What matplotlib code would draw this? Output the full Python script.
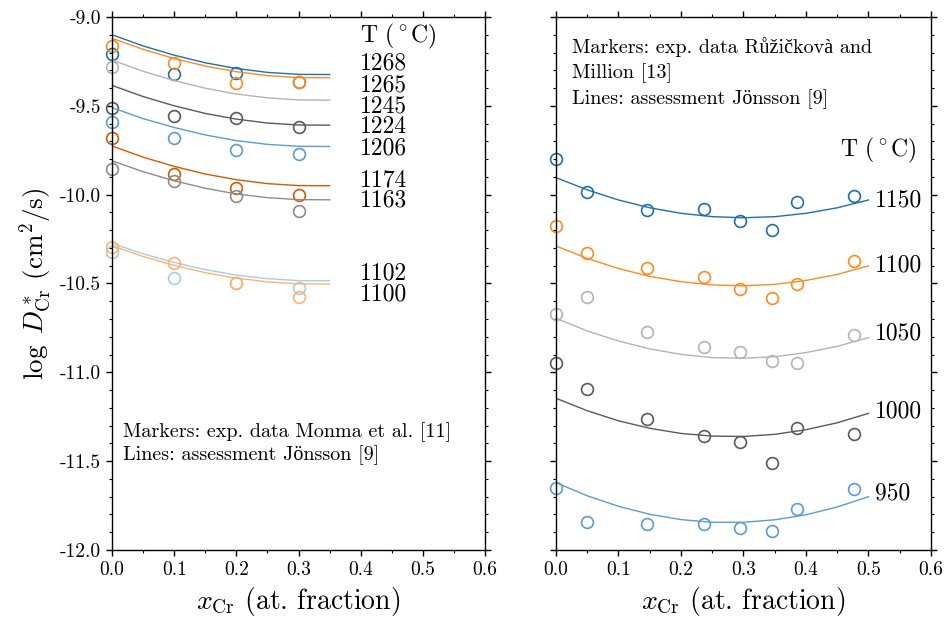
import matplotlib
matplotlib.use("Agg")
import matplotlib.pyplot as plt
from matplotlib.ticker import MultipleLocator, FormatStrFormatter

plt.rcParams['font.family'] = ['cmr10', 'Liberation Serif', 'DejaVu Serif']
plt.rcParams['mathtext.fontset'] = 'cm'
plt.rcParams['axes.unicode_minus'] = False
plt.rcParams['axes.linewidth'] = 1.0

# ---- left panel: Monma et al. data ----
left_temps = ['1268', '1265', '1245', '1224', '1206', '1174', '1163', '1102', '1100']
left_colors = ['#1f6fae', '#ff8a1e', '#b4b4b4', '#5a5a5a', '#5b9bd5', '#d45a00', '#8c8c8c', '#a8cbec', '#ffb36e']

left_exp_x = [0.0, 0.1, 0.2, 0.3]
left_exp_y = [
    [-9.21, -9.32, -9.317, -9.364],
    [-9.163, -9.26, -9.37, -9.368],
    [-9.28],
    [-9.51, -9.555, -9.57, -9.62],
    [-9.589, -9.679, -9.748, -9.773],
    [-9.679, -9.884, -9.96, -10.0],
    [-9.855, -9.923, -10.005, -10.09],
    [-10.324, -10.47, -10.499, -10.527],
    [-10.296, -10.386, -10.495, -10.574],
]

left_calc_x = [0.0, 0.05, 0.1, 0.15, 0.2, 0.25, 0.3, 0.35]
left_calc_y = [
    [-9.100, -9.163, -9.215, -9.258, -9.290, -9.312, -9.323, -9.324],
    [-9.120, -9.182, -9.234, -9.276, -9.308, -9.330, -9.341, -9.342],
    [-9.242, -9.306, -9.358, -9.401, -9.434, -9.455, -9.467, -9.468],
    [-9.385, -9.448, -9.500, -9.543, -9.575, -9.597, -9.608, -9.609],
    [-9.510, -9.572, -9.622, -9.664, -9.696, -9.717, -9.728, -9.729],
    [-9.726, -9.789, -9.841, -9.884, -9.916, -9.938, -9.949, -9.950],
    [-9.809, -9.871, -9.922, -9.964, -9.996, -10.017, -10.028, -10.029],
    [-10.274, -10.333, -10.382, -10.422, -10.453, -10.473, -10.484, -10.485],
    [-10.287, -10.348, -10.398, -10.439, -10.470, -10.491, -10.502, -10.503],
]
left_label_y = [-9.261, -9.383, -9.505, -9.617, -9.739, -9.921, -10.034, -10.442, -10.564]

# ---- right panel: Ruzickova and Million data ----
right_temps = ['1150', '1100', '1050', '1000', '950']
right_colors = ['#1f6fae', '#ff8a1e', '#b4b4b4', '#5a5a5a', '#5b9bd5']

right_exp_x = [0.0, 0.05, 0.145, 0.237, 0.295, 0.345, 0.385, 0.477]
right_exp_y = [
    [-9.799, -9.983, -10.086, -10.082, -10.146, -10.199, -10.039, -10.007],
    [-10.176, -10.33, -10.411, -10.465, -10.532, -10.58, -10.503, -10.373],
    [-10.671, -10.574, -10.771, -10.855, -10.883, -10.936, -10.949, -10.789],
    [-10.949, -11.095, -11.264, -11.356, -11.39, -11.512, -11.315, -11.348],
    [-11.652, -11.84, -11.853, -11.853, -11.877, -11.891, -11.769, -11.656],
]

right_calc_x = [0.0, 0.05, 0.1, 0.15, 0.2, 0.25, 0.3, 0.35, 0.4, 0.45, 0.5]
right_calc_y = [
    [-9.904, -9.973, -10.030, -10.074, -10.105, -10.124, -10.130, -10.124, -10.105, -10.074, -10.030],
    [-10.289, -10.359, -10.416, -10.460, -10.490, -10.508, -10.513, -10.505, -10.483, -10.449, -10.401],
    [-10.696, -10.767, -10.824, -10.868, -10.899, -10.917, -10.921, -10.912, -10.889, -10.854, -10.805],
    [-11.146, -11.216, -11.273, -11.315, -11.344, -11.359, -11.361, -11.349, -11.323, -11.284, -11.231],
    [-11.621, -11.695, -11.754, -11.799, -11.829, -11.844, -11.844, -11.830, -11.802, -11.758, -11.700],
]
right_label_y = [-10.03, -10.401, -10.78, -11.221, -11.68]

fig = plt.figure(figsize=(9.47, 6.24), dpi=100)
ax1 = fig.add_axes([0.1183, 0.1186, 0.3939, 0.8542])
ax2 = fig.add_axes([0.5871, 0.1186, 0.3960, 0.8542])

for ax in (ax1, ax2):
    ax.set_xlim(0.0, 0.6)
    ax.set_ylim(-12.0, -9.0)
    ax.xaxis.set_major_locator(MultipleLocator(0.1))
    ax.xaxis.set_minor_locator(MultipleLocator(0.05))
    ax.yaxis.set_major_locator(MultipleLocator(0.5))
    ax.yaxis.set_minor_locator(MultipleLocator(0.1))
    ax.xaxis.set_major_formatter(FormatStrFormatter('%.1f'))
    ax.yaxis.set_major_formatter(FormatStrFormatter('%.1f'))
    ax.tick_params(which='both', direction='out', top=True, right=True, labelsize=14)
    ax.tick_params(which='major', length=4.5, width=1.0)
    ax.tick_params(which='minor', length=2.5, width=0.8)
    ax.set_xlabel(r'$x_{\mathrm{Cr}}$ (at. fraction)', fontsize=20)

ax2.tick_params(labelleft=False)
ax1.set_ylabel(r'$\log\ D^*_{\mathrm{Cr}}$ (cm$^2$/s)', fontsize=19.5)

for i in range(len(left_temps)):
    c = left_colors[i]
    ax1.plot(left_calc_x, left_calc_y[i], '-', color=c, lw=1.0)
    ax1.plot(left_exp_x[:len(left_exp_y[i])], left_exp_y[i], 'o', mfc='none', mec=c,
             ms=8.5, mew=1.2, clip_on=False)
    ax1.text(0.399, left_label_y[i], left_temps[i], fontsize=17, va='center', ha='left')
ax1.text(0.399, -9.111, r'T ($^\circ$C)', fontsize=17, va='center', ha='left')

for i in range(len(right_temps)):
    c = right_colors[i]
    ax2.plot(right_calc_x, right_calc_y[i], '-', color=c, lw=1.0)
    ax2.plot(right_exp_x, right_exp_y[i], 'o', mfc='none', mec=c,
             ms=8.5, mew=1.2, clip_on=False)
    ax2.text(0.511, right_label_y[i], right_temps[i], fontsize=17, va='center', ha='left')
ax2.text(0.454, -9.75, r'T ($^\circ$C)', fontsize=17, va='center', ha='left')

ax1.text(0.018, -11.40, 'Markers: exp. data Monma et al. [11]\nLines: assessment Jönsson [9]',
         fontsize=14.5, va='center', ha='left', linespacing=1.2)
ax2.text(0.025, -9.315, 'Markers: exp. data Růžičkovà and\nMillion [13]\nLines: assessment Jönsson [9]',
         fontsize=14.5, va='center', ha='left', linespacing=1.4)

fig.savefig('out.png', dpi=100)
